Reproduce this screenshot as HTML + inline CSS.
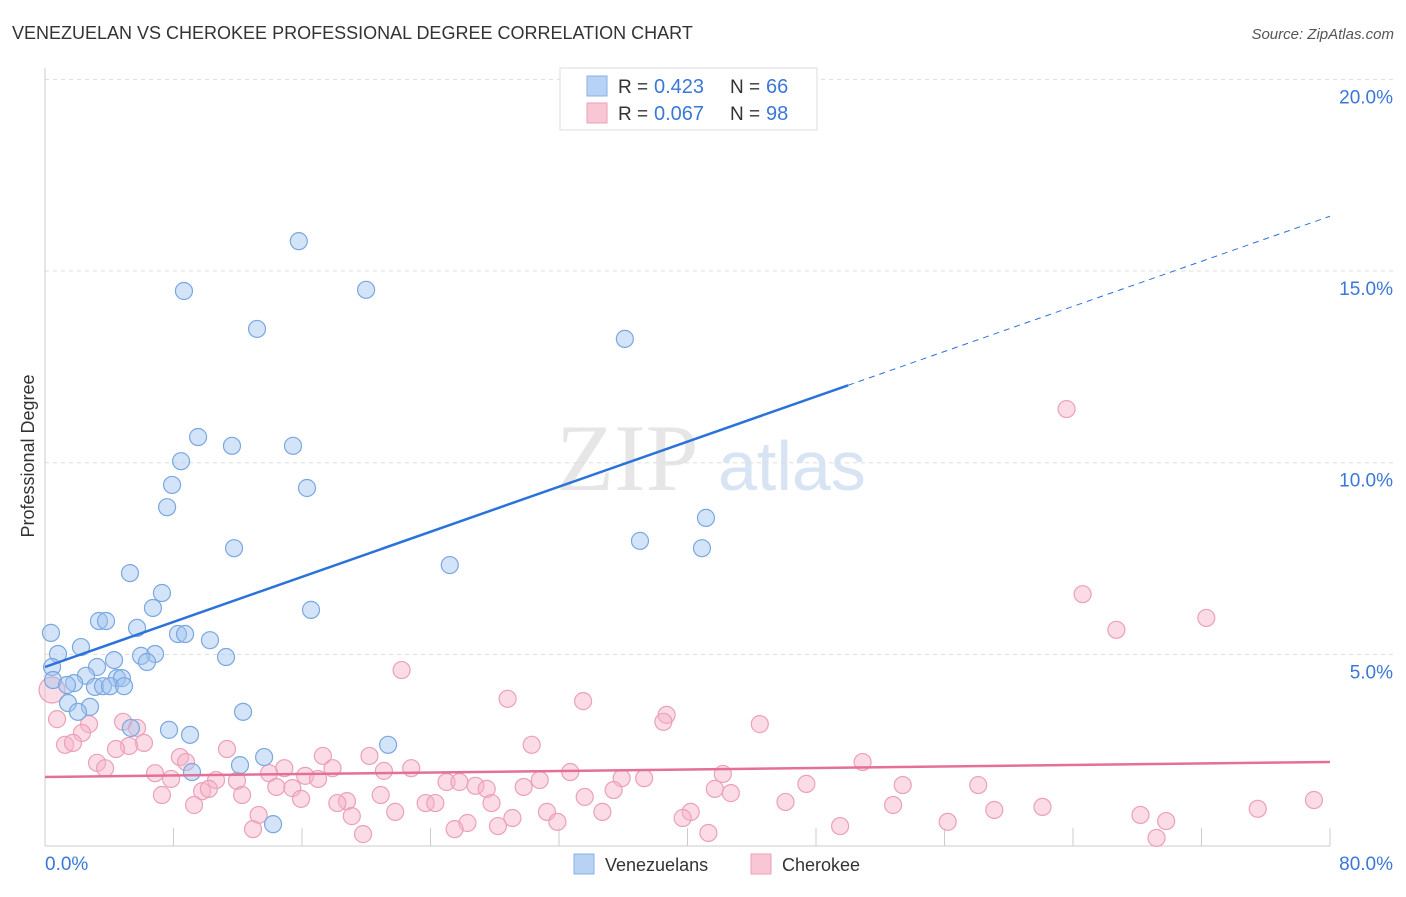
<!DOCTYPE html>
<html><head><meta charset="utf-8"><style>
body{margin:0;background:#fff;font-family:"Liberation Sans",sans-serif}
svg text{font-family:"Liberation Sans",sans-serif}
</style></head><body>
<svg id="c" width="1406" height="892">
<text x="12" y="39" font-size="18" fill="#333">VENEZUELAN VS CHEROKEE PROFESSIONAL DEGREE CORRELATION CHART</text>
<text x="1394" y="39" font-size="15" fill="#555" font-style="italic" text-anchor="end">Source: ZipAtlas.com</text>
<text x="556" y="490" font-size="95" fill="#e6e6e6" style="font-family:'Liberation Serif',serif">ZIP</text>
<text x="718" y="490" font-size="70" fill="#d8e4f4">atlas</text>
<text transform="translate(34,456) rotate(-90)" font-size="18" fill="#333" text-anchor="middle">Professional Degree</text>
<g id="grid"></g><g id="marks"></g>
<g>
<rect x="560" y="68" width="257" height="62" fill="#fff" stroke="#ddd"/>
<rect x="587" y="76" width="20" height="20" fill="#b7d2f5" stroke="#8ab0e6"/>
<rect x="587" y="103" width="20" height="20" fill="#f8c6d5" stroke="#eba0b8"/>
<text x="618" y="93" font-size="19" fill="#333">R =</text><text x="654" y="93" font-size="20" fill="#3a78d8">0.423</text>
<text x="730" y="93" font-size="19" fill="#333">N =</text><text x="766" y="93" font-size="20" fill="#3a78d8">66</text>
<text x="618" y="120" font-size="19" fill="#333">R =</text><text x="654" y="120" font-size="20" fill="#3a78d8">0.067</text>
<text x="730" y="120" font-size="19" fill="#333">N =</text><text x="766" y="120" font-size="20" fill="#3a78d8">98</text>
</g>
<g>
<rect x="574" y="854" width="20" height="20" fill="#b7d2f5" stroke="#8ab0e6"/>
<text x="605" y="871" font-size="18" fill="#333">Venezuelans</text>
<rect x="751" y="854" width="20" height="20" fill="#f8c6d5" stroke="#eba0b8"/>
<text x="782" y="871" font-size="18" fill="#333">Cherokee</text>
</g>
</svg>
<script>
const yTicks=[5,10,15,20];
const xTickLabels=["0.0%","80.0%"];
const blueX=[15.8,8.65,19.99,13.2,36.1,9.53,11.64,15.44,8.47,7.91,16.31,7.6,41.15,37.04,11.77,40.9,25.2,5.29,7.28,6.72,16.56,3.36,3.8,0.37,5.73,8.28,8.72,10.27,2.24,0.81,6.85,5.98,6.35,4.3,11.27,3.24,0.44,2.55,0.5,4.48,4.79,1.81,3.11,3.61,4.05,4.92,1.37,1.43,2.8,2.05,12.33,5.35,7.72,9.03,21.36,13.64,12.14,9.15,14.2];
const blueY=[15.78,14.48,14.51,13.49,13.23,10.67,10.44,10.44,10.04,9.42,9.34,8.84,8.56,7.96,7.77,7.77,7.33,7.12,6.6,6.21,6.16,5.87,5.87,5.56,5.69,5.53,5.53,5.37,5.19,5.01,5.01,4.96,4.8,4.85,4.93,4.67,4.67,4.44,4.33,4.38,4.38,4.25,4.15,4.17,4.17,4.17,4.2,3.73,3.63,3.5,3.5,3.08,3.03,2.9,2.64,2.32,2.11,1.93,0.57];
const pinkX=[63.6,64.6,72.3,66.7,22.2,28.8,33.5,0.75,38.7,38.5,44.5,2.74,4.86,5.73,2.3,1.25,1.74,6.16,5.23,4.42,30.3,11.33,8.4,8.78,17.3,20.2,3.24,3.74,50.9,14.9,17.9,22.8,6.85,13.95,16.2,21.1,32.7,42.2,7.85,10.65,11.95,17.0,35.9,37.3,25.0,25.8,30.8,47.4,53.4,58.1,14.4,15.4,26.8,27.5,29.8,35.4,41.7,9.78,10.2,12.27,7.28,20.9,42.7,18.8,15.94,18.2,23.7,24.3,27.8,33.6,46.1,9.28,52.8,62.1,79.0,75.5,59.1,21.8,34.7,31.25,40.2,19.1,13.3,29.1,39.7,68.2,69.8,56.2,31.9,26.3,49.5,12.95,25.5,28.2,19.8,41.3,69.2,0.44];
const pinkY=[11.4,6.57,5.95,5.64,4.59,3.84,3.78,3.31,3.42,3.24,3.18,3.18,3.24,3.08,2.95,2.64,2.69,2.69,2.61,2.53,2.64,2.53,2.32,2.19,2.35,2.35,2.17,2.03,2.19,2.03,2.03,2.03,1.9,1.9,1.83,1.96,1.93,1.88,1.75,1.72,1.7,1.75,1.77,1.77,1.67,1.67,1.72,1.62,1.59,1.59,1.54,1.51,1.57,1.49,1.54,1.46,1.49,1.43,1.49,1.33,1.33,1.33,1.38,1.17,1.23,1.12,1.12,1.12,1.12,1.28,1.15,1.07,1.07,1.02,1.2,0.97,0.94,0.89,0.89,0.89,0.89,0.78,0.81,0.73,0.73,0.81,0.65,0.63,0.63,0.6,0.52,0.44,0.44,0.52,0.31,0.34,0.21,4.07];
const blueTrend=[4.67,0.147];
const pinkTrend=[1.80,0.0049];
const NS="http://www.w3.org/2000/svg";
const sx=v=>45+v*1285/80, sy=v=>846-v*38.33;
function mk(t,a,p){const e=document.createElementNS(NS,t);for(const k in a)e.setAttribute(k,a[k]);p.appendChild(e);return e;}
const g=document.getElementById('grid'),m=document.getElementById('marks');
yTicks.forEach(t=>{
 const l=mk('line',{x1:45,x2:1393,y1:sy(t),y2:sy(t),stroke:'#ddd','stroke-dasharray':'4,4'},g);
 
 
 const tx=mk('text',{x:1393,y:sy(t)+24,'font-size':19,fill:'#3a78d8','text-anchor':'end'},g);tx.textContent=t.toFixed(1)+'%';
 
 
});
mk('line',{x1:45,x2:45,y1:68,y2:846,stroke:'#ccc'},g);
mk('line',{x1:45,x2:1330,y1:846,y2:846,stroke:'#ccc'},g);
for(let i=1;i<=10;i++){mk('line',{x1:sx(i*8),x2:sx(i*8),y1:828,y2:846,stroke:'#ccc'},g);}
const xl=mk('text',{x:45,y:870,'font-size':19,fill:'#3a78d8'},g);xl.textContent=xTickLabels[0];


const xr=mk('text',{x:1393,y:870,'font-size':19,fill:'#3a78d8','text-anchor':'end'},g);xr.textContent=xTickLabels[1];


pinkX.forEach((x,i)=>{const c=mk('circle',{cx:sx(x),cy:sy(pinkY[i]),r:i==pinkX.length-1?13:8.5,fill:'rgba(246,178,200,0.45)',stroke:'#eba0b8','stroke-width':1.2},m);
 
 });
blueX.forEach((x,i)=>{const c=mk('circle',{cx:sx(x),cy:sy(blueY[i]),r:8.5,fill:'rgba(160,196,240,0.45)',stroke:'#7aa7e0','stroke-width':1.2},m);
 
 });
const bl=mk('line',{x1:sx(0),y1:sy(blueTrend[0]),x2:sx(50),y2:sy(blueTrend[0]+blueTrend[1]*50),stroke:'#2b72d9','stroke-width':2.5},m);


const bd=mk('line',{x1:sx(50),y1:sy(blueTrend[0]+blueTrend[1]*50),x2:sx(80),y2:sy(blueTrend[0]+blueTrend[1]*80),stroke:'#2b72d9','stroke-width':1,'stroke-dasharray':'6,5'},m);


const pl=mk('line',{x1:sx(0),y1:sy(pinkTrend[0]),x2:sx(80),y2:sy(pinkTrend[0]+pinkTrend[1]*80),stroke:'#e4709a','stroke-width':2.5},m);


</script>
</body></html>
